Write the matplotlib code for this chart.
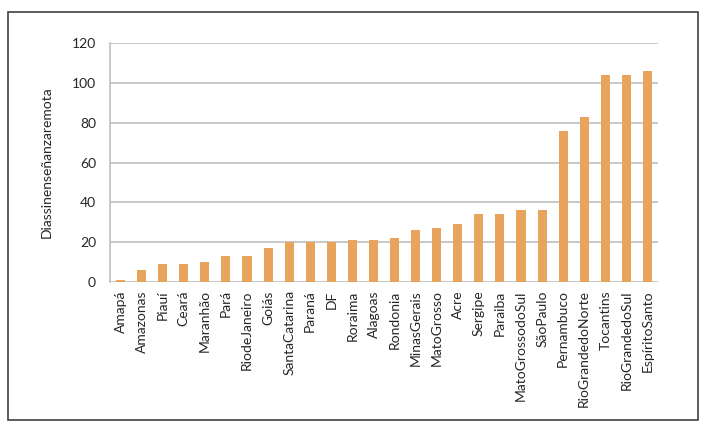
import matplotlib
matplotlib.use("Agg")
import matplotlib.pyplot as plt
from matplotlib.patches import Rectangle

states = ["Amapá", "Amazonas", "Piauí", "Ceará", "Maranhão", "Pará", "RiodeJaneiro",
          "Goiás", "SantaCatarina", "Paraná", "DF", "Roraima", "Alagoas", "Rondonia",
          "MinasGerais", "MatoGrosso", "Acre", "Sergipe", "Paraiba", "MatoGrossodoSul",
          "SãoPaulo", "Pernambuco", "RioGrandedoNorte", "Tocantins", "RioGrandedoSul",
          "EspíritoSanto"]
days = [1, 6, 9, 9, 10, 13, 13, 17, 20, 20, 20, 21, 21, 22, 26, 27, 29, 34, 34, 36,
        36, 76, 83, 104, 104, 106]
yticks = [0, 20, 40, 60, 80, 100, 120]
ylabel = "Diassinenseñanzaremota"

plt.rcParams['font.family'] = ['Lato', 'DejaVu Sans']

W, H = 709, 426
fig = plt.figure(figsize=(W / 100, H / 100), dpi=100)
ax = fig.add_axes([110 / W, 1 - 282 / H, (658 - 110) / W, (282 - 43.3) / H])

x = range(len(states))
ax.bar(x, days, width=0.43, color="#E8A35C", zorder=3)
ax.set_xlim(-0.5, len(states) - 0.5)
ax.set_ylim(0, 120)
ax.set_yticks(yticks)
ax.yaxis.grid(True, color="#BFBFBF", linewidth=1.2, zorder=0)
ax.set_xticks(list(x))
ax.set_xticklabels(states, rotation=90, fontsize=10, color="#262626")
ax.tick_params(axis="y", labelsize=10, colors="#262626", length=0, pad=10)
ax.tick_params(axis="x", length=0, pad=6)
for s in ["top", "right", "bottom"]:
    ax.spines[s].set_visible(False)
ax.spines["left"].set_color("#BFBFBF")
ax.spines["left"].set_linewidth(1.2)
ax.set_ylabel(ylabel, fontsize=10, color="#262626", labelpad=14)

fig.patches.append(Rectangle((8 / W, 1 - 420 / H), (698 - 8) / W, (420 - 12) / H,
                             transform=fig.transFigure, fill=False,
                             edgecolor="#404040", linewidth=1.2))

fig.savefig("out.png", dpi=100)
